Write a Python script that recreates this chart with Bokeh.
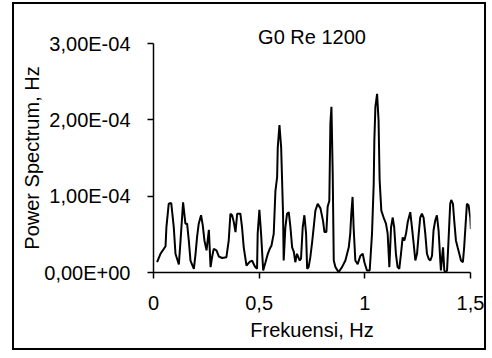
from bokeh.plotting import figure
from bokeh.models import FixedTicker, Range1d
from bokeh.embed import file_html
from bokeh.resources import INLINE

title_text = "G0 Re 1200"
x_label = "Frekuensi, Hz"
y_label = "Power Spectrum, Hz"

x_ticks = [0, 0.5, 1, 1.5]
x_tick_labels = ["0", "0,5", "1", "1,5"]
y_ticks = [0, 1e-4, 2e-4, 3e-4]
y_tick_labels = ["0,00E+00", "1,00E-04", "2,00E-04", "3,00E-04"]

freq = [0.017, 0.033, 0.049, 0.057, 0.061, 0.072, 0.084, 0.096, 0.104, 0.120,
        0.128, 0.140, 0.151, 0.159, 0.167, 0.175, 0.191, 0.199, 0.206, 0.214,
        0.225, 0.233, 0.241, 0.251, 0.262, 0.270, 0.277, 0.285, 0.298, 0.309,
        0.325, 0.345, 0.356, 0.364, 0.372, 0.380, 0.388, 0.396, 0.411, 0.419,
        0.427, 0.440, 0.455, 0.467, 0.474, 0.482, 0.490, 0.493, 0.501, 0.509,
        0.519, 0.530, 0.541, 0.550, 0.558, 0.569, 0.577, 0.585, 0.588, 0.596,
        0.604, 0.613, 0.616, 0.624, 0.632, 0.640, 0.648, 0.656, 0.664, 0.671,
        0.679, 0.692, 0.698, 0.706, 0.714, 0.722, 0.727, 0.734, 0.742, 0.750,
        0.758, 0.766, 0.777, 0.790, 0.802, 0.809, 0.818, 0.824, 0.832, 0.837,
        0.842, 0.848, 0.853, 0.861, 0.876, 0.892, 0.908, 0.924, 0.931, 0.936,
        0.942, 0.947, 0.955, 0.966, 0.979, 0.990, 0.998, 1.010, 1.023, 1.034,
        1.042, 1.045, 1.050, 1.058, 1.065, 1.070, 1.078, 1.089, 1.100, 1.108,
        1.116, 1.124, 1.132, 1.139, 1.147, 1.155, 1.163, 1.171, 1.179, 1.187,
        1.195, 1.203, 1.215, 1.223, 1.231, 1.239, 1.247, 1.255, 1.262, 1.270,
        1.278, 1.286, 1.294, 1.302, 1.310, 1.318, 1.325, 1.333, 1.341, 1.349,
        1.357, 1.360, 1.370, 1.376, 1.382, 1.389, 1.396, 1.404, 1.409, 1.417,
        1.423, 1.431, 1.439, 1.447, 1.455, 1.464, 1.470, 1.478, 1.483, 1.491,
        1.499, 1.502]

# power spectrum in units of 1e-4
power_e4 = [0.135, 0.245, 0.31, 0.345, 0.59, 0.90, 0.91, 0.59, 0.245, 0.105,
            0.42, 0.92, 0.64, 0.64, 0.42, 0.157, 0.048, 0.245, 0.46, 0.64,
            0.75, 0.62, 0.42, 0.29, 0.56, 0.07, 0.20, 0.31, 0.29, 0.21,
            0.19, 0.20, 0.42, 0.77, 0.75, 0.66, 0.53, 0.77, 0.77, 0.59,
            0.33, 0.09, 0.14, 0.157, 0.11, 0.07, 0.048, 0.51, 0.82, 0.51,
            0.026, 0.135, 0.245, 0.31, 0.35, 0.51, 1.07, 1.25, 1.64, 1.93,
            1.64, 0.77, 0.157, 0.59, 0.77, 0.79, 0.59, 0.33, 0.27, 0.135,
            0.245, 0.157, 0.18, 0.59, 0.75, 0.51, 0.048, 0.07, 0.20, 0.38,
            0.59, 0.81, 0.90, 0.84, 0.68, 0.53, 0.53, 0.86, 0.94, 1.95,
            2.17, 1.29, 0.157, 0.07, 0.004, 0.07, 0.157, 0.33, 0.51, 0.77,
            0.99, 0.59, 0.157, 0.11, 0.22, 0.245, 0.135, 0.026, 0.026, 0.51,
            1.16, 1.73, 2.17, 2.34, 1.99, 1.21, 0.81, 0.72, 0.64, 0.51,
            0.07, 0.59, 0.72, 0.59, 0.245, 0.07, 0.048, 0.245, 0.46, 0.42,
            0.51, 0.66, 0.79, 0.59, 0.38, 0.157, 0.245, 0.51, 0.72, 0.77,
            0.72, 0.51, 0.245, 0.18, 0.157, 0.22, 0.55, 0.68, 0.75, 0.55,
            0.157, 0.026, 0.33, 0.026, 0.0, 0.026, 0.42, 0.90, 0.95, 0.90,
            0.68, 0.42, 0.33, 0.245, 0.157, 0.135, 0.33, 0.68, 0.90, 0.88,
            0.72, 0.57]

power = [v * 1e-4 for v in power_e4]

FONT = "Liberation Sans"

p = figure(width=474, height=348, output_backend="svg", toolbar_location=None,
           x_range=Range1d(0, 1.5), y_range=Range1d(0, 3e-4),
           min_border_left=139, min_border_right=18,
           min_border_top=39, min_border_bottom=80,
           title=title_text)
p.styles = {"border": "2px solid #000", "margin-top": "2px", "margin-left": "12px"}
p.outline_line_color = None
p.xgrid.visible = False
p.ygrid.visible = False
p.background_fill_color = "white"
p.border_fill_color = "white"

p.title.align = "center"
p.title.text_font = FONT
p.title.text_font_size = "20px"
p.title.text_font_style = "normal"
p.title.text_color = "black"
p.title.standoff = -8

p.line(freq, power, line_color="black", line_width=2)

for ax in (p.xaxis[0], p.yaxis[0]):
    ax.axis_line_color = "black"
    ax.axis_line_width = 1.5
    ax.major_tick_line_color = "black"
    ax.major_tick_line_width = 1.5
    ax.major_tick_out = 6
    ax.major_tick_in = 0
    ax.minor_tick_line_color = None
    ax.major_label_text_font = FONT
    ax.major_label_text_font_size = "20px"
    ax.major_label_text_color = "black"
    ax.axis_label_text_font = FONT
    ax.axis_label_text_font_size = "20px"
    ax.axis_label_text_font_style = "normal"
    ax.axis_label_text_color = "black"

p.xaxis.ticker = FixedTicker(ticks=x_ticks)
p.xaxis.major_label_overrides = {t: l for t, l in zip(x_ticks, x_tick_labels)}
p.yaxis.ticker = FixedTicker(ticks=y_ticks)
p.yaxis.major_label_overrides = {t: l for t, l in zip(y_ticks, y_tick_labels)}
p.xaxis.axis_label = x_label
p.yaxis.axis_label = y_label
p.xaxis.major_label_standoff = 17
p.yaxis.major_label_standoff = 17
p.xaxis.axis_label_standoff = 6
p.yaxis.axis_label_standoff = -2

open("out.html", "w").write(file_html(p, INLINE))
